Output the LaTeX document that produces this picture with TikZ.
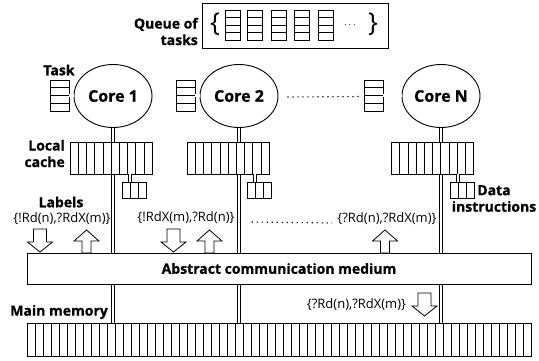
\documentclass[tikz,border=0pt]{standalone}
\usepackage{fontspec}
\setmainfont{Open Sans}[BoldFeatures={FakeBold=0.8}]
\usetikzlibrary{calc,shapes.geometric}
\begin{document}
\begin{tikzpicture}[x=1pt,y=-1pt,
  bx/.style={draw, line width=0.8pt, fill=white, inner sep=0pt, rectangle},
  cells/.style={path picture={\foreach \i in {1,...,#1}{\draw[line width=0.6pt]
      ($(path picture bounding box.north west)!{\i/#1}!(path picture bounding box.north east)$) --
      ($(path picture bounding box.south west)!{\i/#1}!(path picture bounding box.south east)$);}}},
  rows/.style={path picture={\foreach \i in {1,...,#1}{\draw[line width=0.6pt]
      ($(path picture bounding box.north west)!{\i/#1}!(path picture bounding box.south west)$) --
      ($(path picture bounding box.north east)!{\i/#1}!(path picture bounding box.south east)$);}}},
  taskicon/.style={bx, minimum width=19pt, minimum height=31pt, rows=4},
  qicon/.style={bx, minimum width=15pt, minimum height=30pt, rows=4},
  cache/.style={bx, minimum width=82pt, minimum height=32pt, cells=10},
  databox/.style={bx, minimum width=24pt, minimum height=16pt, cells=3},
  core/.style={ellipse, draw, line width=0.9pt, fill=white, minimum width=78pt, minimum height=63pt, inner sep=0pt, font=\bfseries\fontsize{16}{19}\selectfont},
  dbl/.style={double distance=2.2pt, line width=0.8pt},
  dotline/.style={line width=1.1pt, dash pattern=on 1.1pt off 3.9pt},
  blab/.style={font=\bfseries\fontsize{14}{16.5}\selectfont, inner sep=0pt},
  rlab/.style={font=\fontsize{13}{15}\selectfont, inner sep=0pt},
  arr/.style={draw, line width=0.8pt, fill=white},
  downarr/.pic={\path[arr] (-6.5,0) -- (6.5,0) -- (6.5,13) -- (12.5,13) -- (0,23) -- (-12.5,13) -- (-6.5,13) -- cycle;},
  uparr/.pic={\path[arr] (0,0) -- (12.5,11) -- (4.5,11) -- (4.5,23) -- (-4.5,23) -- (-4.5,11) -- (-12.5,11) -- cycle;}
]
\useasboundingbox (0,0) rectangle (539,360);

% queue of tasks
\node[bx, minimum width=186pt, minimum height=45pt] (qbox) at (295,25.5) {};
\node[blab, align=right, anchor=east] (qlab) at (198,31.5) {Queue of\\tasks};
\node[font=\fontsize{26}{28}\selectfont, inner sep=0pt] (lbr) at (215,24) {\{};
\node[font=\fontsize{26}{28}\selectfont, inner sep=0pt] (rbr) at (373,24) {\}};
\foreach \k [count=\j] in {232.5,255,278.5,302,325.5}
  \node[qicon] (q\j) at (\k,25) {};
\node[inner sep=0pt] (qdots) at (350,25) {$\cdots$};

% cores
\node[core] (c1) at (113,96) {Core 1};
\node[core] (c2) at (239,96) {Core 2};
\node[core] (cN) at (441,96) {Core N};
\node[taskicon] (t1) at (59.5,95.5) {};
\node[taskicon] (t2) at (185.5,95.5) {};
\node[taskicon] (tN) at (373.5,95.5) {};
\node[blab] (tasklab) at (59,70) {Task};
\draw[dbl] (t1.east) -- (t1.east -| c1.west);
\draw[dbl] (t2.east) -- (t2.east -| c2.west);
\draw[dbl] (tN.east) -- (tN.east -| cN.west);
\draw[dotline] ($(c2.east)+(9,1)$) -- ($(tN.west)+(-3,1)$);

% coordinates for caches and memory
\coordinate (k1p) at (111,158);
\coordinate (k2p) at (228,158);
\coordinate (kNp) at (432.5,158);

% main memory
\node[bx, minimum width=504pt, minimum height=33pt, cells=63] (mem) at (279,339.5) {};
\node[blab, anchor=east] (memlab) at (108,312) {Main memory};

% vertical double lines (behind caches)
\foreach \c/\k in {c1/k1p,c2/k2p,cN/kNp}{
  \draw[dbl] (\c.south) -- (\c.south |- \k) -- (\c.south |- mem.north);
}

% caches
\node[cache] (k1) at (k1p) {};
\node[cache] (k2) at (k2p) {};
\node[cache] (kN) at (kNp) {};
\node[blab, align=right, anchor=east] (kl) at (65,153.5) {Local\\cache};

% data instructions
\node[databox] (d1) at (134,190) {};
\node[databox] (d2) at (259,190) {};
\node[databox] (dN) at (462.5,190) {};
\coordinate (d1c) at ($(d1.north west)!{1/3}!(d1.north east)$);
\coordinate (d2c) at ($(d2.north west)!{1/3}!(d2.north east)$);
\coordinate (dNc) at ($(dN.north west)!{1/3}!(dN.north east)$);
\draw[dbl] (d1c |- k1.south) -- (d1c);
\draw[dbl] (d2c |- k2.south) -- (d2c);
\draw[dbl] (dNc |- kN.south) -- (dNc);
\node[blab, align=center] (dlab) at (494,198.5) {Data\\instructions};

% labels
\node[blab] (lablab) at (61,202) {Labels};
\node[rlab] (l1) at (62,219) {\{!Rd(n),?RdX(m)\}};
\node[rlab] (l2) at (186,218) {\{!RdX(m),?Rd(n)\}};
\node[rlab] (lN) at (387,219) {\{?Rd(n),?RdX(m)\}};
\draw[dotline] ($(l2.east)+(17,4)$) -- ($(lN.west)+(-5,4)$);

% medium
\node[bx, minimum width=504pt, minimum height=31pt, font=\bfseries\fontsize{14}{16}\selectfont] (med) at (279,268.5) {Abstract communication medium};

% arrows
\pic at (40,229) {downarr};
\pic at (86.5,230) {uparr};
\pic at (173.5,229) {downarr};
\pic at (209.5,230) {uparr};
\pic at (385,230) {uparr};
\pic at (424.5,293) {downarr};
\node[rlab] (lm) at (356.5,305) {\{?Rd(n),?RdX(m)\}};
\end{tikzpicture}
\end{document}
